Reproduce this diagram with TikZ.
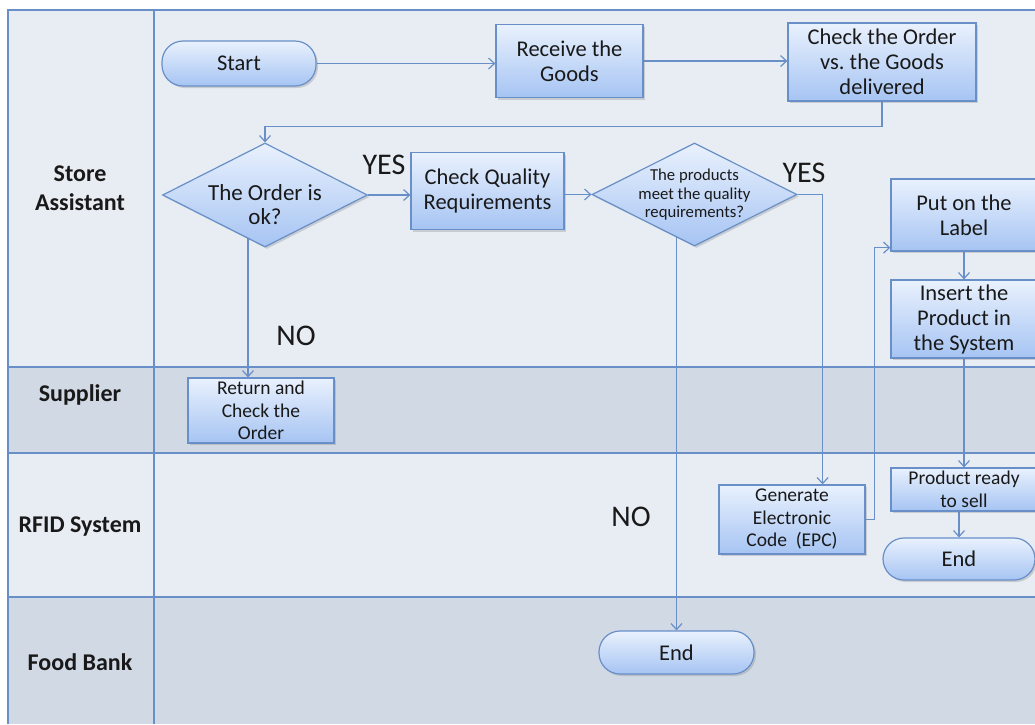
\documentclass[tikz,border=0pt]{standalone}
\usepackage{fontspec}
\setmainfont{Carlito}
\usetikzlibrary{arrows.meta,shapes.geometric,shadows,calc}
\frenchspacing

\definecolor{lineblue}{RGB}{104,143,200}
\definecolor{laneA}{RGB}{232,237,244}
\definecolor{laneB}{RGB}{209,217,229}
\definecolor{boxtop}{RGB}{233,241,253}
\definecolor{boxbot}{RGB}{166,196,243}
\definecolor{ink}{RGB}{25,25,25}

\pgfdeclarelayer{lanes}
\pgfdeclarelayer{links}
\pgfsetlayers{lanes,links,main}

\tikzset{
  proc/.style={draw=lineblue, line width=1.2pt, top color=boxtop, bottom color=boxbot,
    drop shadow={shadow xshift=2pt, shadow yshift=-2pt, opacity=0.3},
    align=center, text=ink, inner sep=0pt, font=\fontsize{22.5}{25}\selectfont},
  smalltext/.style={font=\fontsize{19.5}{22.5}\selectfont},
  term/.style={proc, rounded corners=21pt},
  dia/.style={proc, shape=diamond},
  diatext/.style={align=center, text=ink, inner sep=0pt},
  flow/.style={draw=lineblue, line width=1.3pt,
    -{Straight Barb[length=6pt,width=11pt,line width=1.2pt]}},
  lanebd/.style={draw=lineblue, line width=1.5pt},
  lanelabel/.style={font=\bfseries\fontsize{24}{29}\selectfont, align=center, text=ink},
  tag/.style={font=\fontsize{30}{32}\selectfont, text=ink, inner sep=0pt},
}

\begin{document}
\begin{tikzpicture}[x=1pt,y=-1pt]
\useasboundingbox (0,0) rectangle (1035,724);
\clip (0,0) rectangle (1035,724);

% swimlanes
\begin{pgfonlayer}{lanes}
  \fill[white] (0,0) rectangle (1035,724);
  \fill[laneA] (8,10)  rectangle (1035,367);
  \fill[laneB] (8,367) rectangle (1035,453);
  \fill[laneA] (8,453) rectangle (1035,597);
  \fill[laneB] (8,597) rectangle (1035,724);
  \draw[lanebd] (1035,10) -- (8,10) -- (8,724);
  \draw[lanebd] (154,10) -- (154,724);
  \draw[lanebd] (8,367) -- (1035,367);
  \draw[lanebd] (8,453) -- (1035,453);
  \draw[lanebd] (8,597) -- (1035,597);
\end{pgfonlayer}

\node[lanelabel] (laneSA) at (80,188) {Store\\Assistant};
\node[lanelabel] (laneSU) at (80,395) {Supplier};
\node[lanelabel] (laneRF) at (80,527) {RFID System};
\node[lanelabel] (laneFB) at (80,662) {Food Bank};

% steps
\node[term, minimum width=154, minimum height=45] (start) at (239,63.5) {Start};
\node[proc, minimum width=147, minimum height=73] (recv) at (569.5,61) {Receive the\\Goods};
\node[proc, minimum width=188, minimum height=78] (chk) at (882,62) {Check the Order\\vs. the Goods\\delivered};

\node[dia, minimum width=205, minimum height=104] (d1) at (265,195) {};
\node[diatext, font=\fontsize{23}{24}\selectfont] (d1t) at (265,205) {The Order is\\ok?};

\node[proc, minimum width=153, minimum height=77] (cq) at (487.5,191) {Check Quality\\Requirements};

\node[dia, minimum width=205, minimum height=103] (d2) at (694.5,194.5) {};
\node[diatext, font=\fontsize{16.7}{18.5}\selectfont] (d2t) at (694.5,195) {The products\\meet the quality\\requirements?};

\node[proc, smalltext, minimum width=146, minimum height=65] (ret) at (261,410.5) {Return and\\Check the\\Order};
\node[proc, smalltext, minimum width=146, minimum height=69] (gen) at (792,519.5) {Generate\\Electronic\\Code\ \ (EPC)};

\node[proc, minimum width=146, minimum height=72] (put) at (964,215) {Put on the\\Label};
\node[proc, minimum width=146, minimum height=78] (ins) at (964,319) {Insert the\\Product in\\the System};
\node[proc, smalltext, minimum width=146, minimum height=43] (prs) at (964,489.5) {Product ready\\to sell};
\node[term, minimum width=152, minimum height=42] (end2) at (959,559) {End};
\node[term, minimum width=155, minimum height=43] (end1) at (676.5,652.5) {End};

% decision labels
\node[tag] (yes1) at (384,165) {YES};
\node[tag] (yes2) at (804,173) {YES};
\node[tag] (no1) at (296,336) {NO};
\node[tag] (no2) at (631,517) {NO};

% connectors
\coordinate (retin) at ($(ret.north)+(-13,0)$);
\coordinate (genin) at ($(gen.north east)+(-43,0)$);
\coordinate (putin) at ($(put.south west)+(0,-4)$);
\begin{pgfonlayer}{links}
  \draw[flow] (start.east) -- (start.east -| recv.west);
  \draw[flow] (recv.east) -- (recv.east -| chk.west);
  \draw[flow] (chk.south) -- ++(0,25) -| (d1.north);
  \draw[flow] (d1.east) -- (d1.east -| cq.west);
  \draw[flow] (cq.east |- d2) -- (d2.west);
  \draw[flow] (d2.east) -| (genin);
  \draw[flow] (retin |- d1) -- (retin);
  \draw[flow] (end1.north |- d2) -- (end1.north);
  \draw[flow] (gen.east) -- ++(9,0) |- (putin);
  \draw[flow] (put.south) -- (ins.north);
  \draw[flow] (ins.south) -- (prs.north);
  \draw[flow] (end2.north |- prs.south) -- (end2.north);
\end{pgfonlayer}
\end{tikzpicture}
\end{document}
